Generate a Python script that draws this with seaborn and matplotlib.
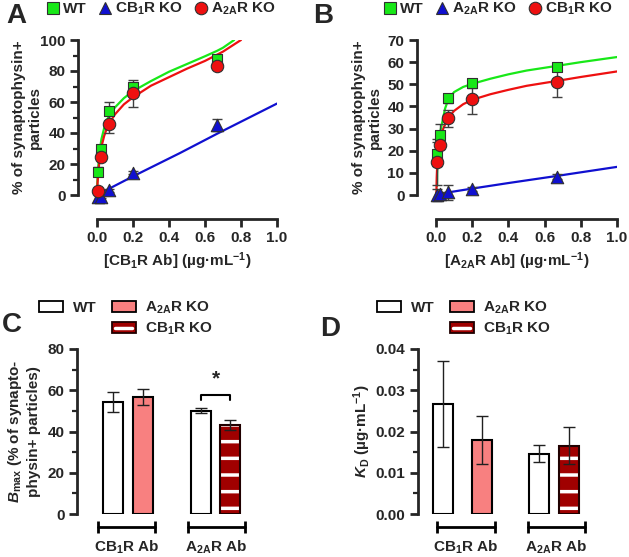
import matplotlib
matplotlib.use("Agg")
import matplotlib.pyplot as plt
import matplotlib.transforms as mtransforms
from matplotlib.patches import Patch, Rectangle
from matplotlib.lines import Line2D
from matplotlib.legend_handler import HandlerBase
from matplotlib.ticker import MultipleLocator, FormatStrFormatter
import seaborn as sns

# ===============================
# Data
# ===============================
conc = [0.0074, 0.022, 0.067, 0.2, 0.667]

# A: CB1R antibody binding
a_wt = [15, 29.5, 54, 70, 87.5]
a_wt_err = [3, 2, 6, 2, 2]
a_cb1ko = [-1.5, -1, 3, 14.5, 45]
a_cb1ko_err = [3, 1, 1, 1, 4]
a_a2ako = [2.5, 24.7, 46, 65.5, 83.5]
a_a2ako_err = [2, 2, 6, 9, 2]

a_wt_fit_x = [0.0, 0.003, 0.008, 0.015, 0.025, 0.04, 0.055, 0.07, 0.1, 0.15, 0.2, 0.3, 0.4, 0.5, 0.6, 0.667, 0.7, 0.762]
a_wt_fit_y = [0, 9, 19, 28, 36, 43, 48, 51.5, 56.5, 62.5, 67, 73.5, 79.5, 84.5, 89.5, 93, 95, 100]
a_a2ako_fit_x = [0.0, 0.003, 0.008, 0.015, 0.025, 0.04, 0.055, 0.07, 0.1, 0.15, 0.2, 0.3, 0.4, 0.5, 0.6, 0.667, 0.7, 0.8]
a_a2ako_fit_y = [0, 7, 15, 23, 31, 38, 43, 46.5, 52, 58.5, 63, 70.5, 76, 81.5, 86.5, 90.5, 92.5, 100]
a_cb1ko_fit_x = [0.0, 0.2, 0.46, 0.667, 1.0]
a_cb1ko_fit_y = [0, 12, 27, 39.5, 59]

# B: A2AR antibody binding
b_wt = [18.5, 27, 43.7, 50.4, 58]
b_wt_err = [5.5, 5, 2, 2, 1]
b_a2ako = [0, 0.3, 1.2, 2.6, 8.3]
b_a2ako_err = [2.5, 1, 3.3, 1, 1]
b_cb1ko = [15, 22.6, 34.6, 43.4, 51.2]
b_cb1ko_err = [10.5, 2, 4, 7, 7]

b_wt_fit_x = [0.0055, 0.0074, 0.012, 0.022, 0.035, 0.05, 0.067, 0.1, 0.15, 0.2, 0.3, 0.4, 0.5, 0.667, 0.8, 1.0]
b_wt_fit_y = [4, 17, 23, 28, 33, 39, 43, 46.5, 48.8, 50.2, 52.5, 54.5, 56.2, 58.3, 60, 62.3]
b_cb1ko_fit_x = [0.002, 0.004, 0.0074, 0.015, 0.022, 0.04, 0.067, 0.1, 0.15, 0.2, 0.3, 0.4, 0.5, 0.667, 0.8, 1.0]
b_cb1ko_fit_y = [0, 8, 15, 21, 24.5, 30, 34.8, 38, 41, 43, 45.5, 47.5, 49.3, 51.5, 53.3, 55.8]
b_a2ako_fit_x = [0.0, 0.2, 0.4, 0.667, 1.0]
b_a2ako_fit_y = [0.3, 2.9, 5.4, 8.6, 12.7]

# C / D: Bmax and KD per antibody
groups = ["CB$_1$R Ab", "A$_{2A}$R Ab"]
bmax_wt = [54.3, 50.1]
bmax_wt_err = [4.7, 1.3]
bmax_ko = [56.7, 43.3]
bmax_ko_err = [3.9, 2.4]
kd_wt = [0.0267, 0.0146]
kd_wt_err = [0.0105, 0.0021]
kd_ko = [0.018, 0.0166]
kd_ko_err = [0.0058, 0.0045]

# ===============================
# Style
# ===============================
sns.set_style("ticks")
plt.rcParams.update({
    "font.family": ["Liberation Sans", "DejaVu Sans"],
    "font.weight": "bold",
    "axes.labelweight": "bold",
    "font.size": 11,
    "mathtext.fontset": "custom",
    "mathtext.rm": "Liberation Sans:bold",
    "mathtext.it": "Liberation Sans:italic:bold",
    "mathtext.bf": "Liberation Sans:bold",
    "mathtext.default": "rm",
    "hatch.linewidth": 2.5,
    "axes.linewidth": 2,
    "xtick.major.width": 2,
    "ytick.major.width": 2,
    "ytick.minor.width": 1.6,
    "xtick.major.size": 5.5,
    "ytick.major.size": 5.5,
    "ytick.minor.size": 3.5,
    "xtick.labelsize": 11,
    "ytick.labelsize": 11,
})

GREEN = "#18e818"
BLUE = "#1010d0"
RED = "#ee1010"
SALMON = "#f88080"
DARKRED = "#a00000"
EDGE = "#303030"

W, H = 629, 557
fig = plt.figure(figsize=(W / 100, H / 100), dpi=100)


def px_axes(left, right, top, bottom):
    return fig.add_axes([left / W, 1 - bottom / H, (right - left) / W, (bottom - top) / H])


class StripeHandler(HandlerBase):
    # dark red box with one white stripe, as in the bar legend
    def create_artists(self, legend, orig_handle, xdescent, ydescent, width, height, fontsize, trans):
        rect = Rectangle((-xdescent, -ydescent), width, height, fc=DARKRED, ec="#200000",
                         lw=1.3, transform=trans)
        line = Line2D([-xdescent + 0.15 * width, -xdescent + 0.85 * width],
                      [-ydescent + height / 2] * 2, color="white", lw=2.5, transform=trans)
        return [rect, line]


def binding_panel(ax, ymax, series, fits, xlabel, legend_x):
    for fx, fy, col in fits:
        sns.lineplot(x=fx, y=fy, color=col, lw=1.6, sort=False, estimator=None, ax=ax, zorder=2)
    for vals, err, col, mk, size, label in series:
        ax.errorbar(conc, vals, yerr=err, fmt="none", ecolor="#404040", elinewidth=1,
                    capsize=3.5, capthick=1, zorder=3, clip_on=False)
    for vals, err, col, mk, size, label in series:
        sns.scatterplot(x=conc, y=vals, marker=mk, color=col, edgecolor=EDGE, linewidth=0.8,
                        s=size, ax=ax, zorder=4, clip_on=False, legend=False)
    ax.set_xlim(-0.105, 1.0)
    ax.set_ylim(0, ymax)
    sns.despine(ax=ax)
    ax.spines["bottom"].set_position(("outward", 17))
    ax.spines["bottom"].set_bounds(0, 1)
    ax.set_xticks([0, 0.2, 0.4, 0.6, 0.8, 1.0])
    ax.xaxis.set_major_formatter(FormatStrFormatter("%.1f"))
    ax.set_xlabel(xlabel, fontsize=11)
    ax.set_ylabel("% of synaptophysin+\nparticles", fontsize=11)
    ax.yaxis.set_label_coords(-0.18, 0.5)
    handles = [Line2D([], [], marker=mk, ls="none", mfc=col, mec=EDGE, mew=0.8, ms=9)
               for vals, err, col, mk, size, label in series]
    labels = [s[5] for s in series]
    ax.legend(handles, labels, ncol=3, loc="upper left", frameon=False,
              bbox_to_anchor=(legend_x / W, 1 - 1 / H), bbox_transform=fig.transFigure,
              borderaxespad=0, borderpad=0, handletextpad=0.05, columnspacing=0.6,
              fontsize=11, handlelength=1.2)


# ===============================
# A
# ===============================
ax_a = px_axes(78, 277, 40, 195)
binding_panel(
    ax_a, 100,
    [(a_wt, a_wt_err, GREEN, "s", 60, "WT"),
     (a_cb1ko, a_cb1ko_err, BLUE, "^", 80, "CB$_1$R KO"),
     (a_a2ako, a_a2ako_err, RED, "o", 80, "A$_{2A}$R KO")],
    [(a_wt_fit_x, a_wt_fit_y, GREEN), (a_a2ako_fit_x, a_a2ako_fit_y, RED),
     (a_cb1ko_fit_x, a_cb1ko_fit_y, BLUE)],
    "[CB$_1$R Ab] (µg·mL$^{-1}$)", 44)
ax_a.set_yticks(range(0, 101, 20))
ax_a.yaxis.set_minor_locator(MultipleLocator(10))

# ===============================
# B
# ===============================
ax_b = px_axes(417, 617, 40, 195)
binding_panel(
    ax_b, 70,
    [(b_wt, b_wt_err, GREEN, "s", 60, "WT"),
     (b_a2ako, b_a2ako_err, BLUE, "^", 80, "A$_{2A}$R KO"),
     (b_cb1ko, b_cb1ko_err, RED, "o", 80, "CB$_1$R KO")],
    [(b_wt_fit_x, b_wt_fit_y, GREEN), (b_cb1ko_fit_x, b_cb1ko_fit_y, RED),
     (b_a2ako_fit_x, b_a2ako_fit_y, BLUE)],
    "[A$_{2A}$R Ab] (µg·mL$^{-1}$)", 381)
ax_b.set_yticks(range(0, 71, 10))
ax_b.yaxis.set_label_coords(-0.175, 0.5)


# ===============================
# C / D bars
# ===============================
def bar_panel(ax, first, first_err, second, second_err, bar_x, brackets, centers, xlim, legend_x):
    for i in range(2):
        x1, x2 = bar_x[i]
        ax.bar(x1, first[i], width=20, color="white", edgecolor="black", lw=1.5, zorder=2)
        if i == 1:
            ax.bar(x2, second[i], width=20, color=DARKRED, edgecolor="white", hatch="-", lw=0, zorder=2)
            ax.bar(x2, second[i], width=20, color="none", edgecolor="#200000", lw=1.5, zorder=3)
        else:
            ax.bar(x2, second[i], width=20, color=SALMON, edgecolor="black", lw=1.5, zorder=2)
        ax.errorbar([x1, x2], [first[i], second[i]], yerr=[first_err[i], second_err[i]], fmt="none",
                    ecolor="#202020", elinewidth=1, capsize=4.5, capthick=1, zorder=4)
    ax.set_xlim(*xlim)
    sns.despine(ax=ax, bottom=True)
    ax.tick_params(axis="x", length=0, pad=18)
    ax.set_xticks(centers, groups)
    trans = mtransforms.blended_transform_factory(ax.transData, ax.transAxes) + \
        mtransforms.ScaledTranslation(0, -13 / 100, fig.dpi_scale_trans)
    for b0, b1 in brackets:
        ax.plot([b0, b1], [0, 0], color="black", lw=2, marker="|", ms=9, mew=2,
                transform=trans, clip_on=False)
    handles = [Patch(fc="white", ec="black", lw=1.3), Patch(fc="none", ec="none"),
               Patch(fc=SALMON, ec="black", lw=1.3), Patch(fc=DARKRED)]
    labels = ["WT", "", "A$_{2A}$R KO", "CB$_1$R KO"]
    ax.legend(handles, labels, ncol=2, loc="upper left", frameon=False,
              bbox_to_anchor=(legend_x / W, 1 - 300 / H), bbox_transform=fig.transFigure,
              handler_map={handles[3]: StripeHandler()},
              borderaxespad=0, borderpad=0, handlelength=1.6, handleheight=0.75,
              handletextpad=0.6, columnspacing=1.0, labelspacing=0.3, fontsize=11)


ax_c = px_axes(77, 255, 349, 514)
bar_panel(ax_c, bmax_wt, bmax_wt_err, bmax_ko, bmax_ko_err,
          [(113, 143), (201, 230)], [(98, 155), (188, 245)], [126.5, 216.5], (77, 255), 39)
ax_c.set_ylim(0, 80)
ax_c.set_yticks(range(0, 81, 20))
ax_c.yaxis.set_minor_locator(MultipleLocator(10))
ax_c.set_ylabel("$\\mathit{B}_{\\mathrm{max}}$ (% of synapto-\nphysin+ particles)", fontsize=11)
ax_c.yaxis.set_label_coords(-0.205, 0.5)
# significance bracket between the two A2AR Ab bars
ax_c.plot([201, 201, 230, 230], [55.5, 57.8, 57.8, 55.5], color="black", lw=1.5)
ax_c.text(215.5, 61, "*", ha="center", va="bottom", fontsize=15, fontweight="bold")

ax_d = px_axes(418, 600, 349, 514)
bar_panel(ax_d, kd_wt, kd_wt_err, kd_ko, kd_ko_err,
          [(443, 482), (539, 569)], [(437, 495), (528, 585)], [466, 556.5], (418, 600), 377)
ax_d.set_ylim(0, 0.04)
ax_d.set_yticks([0, 0.01, 0.02, 0.03, 0.04])
ax_d.yaxis.set_major_formatter(FormatStrFormatter("%.2f"))
ax_d.yaxis.set_minor_locator(MultipleLocator(0.005))
ax_d.set_ylabel("$\\mathit{K}_{\\mathrm{D}}$ (µg·mL$^{-1}$)", fontsize=11)
ax_d.yaxis.set_label_coords(-0.245, 0.5)

# panel letters
for x, y, letter in [(6, 3, "A"), (313, 3, "B"), (2, 312, "C"), (320, 316, "D")]:
    fig.text(x / W, 1 - y / H, letter, fontsize=20, fontweight="bold", va="top", ha="left")

fig.savefig("out.png", dpi=100)
